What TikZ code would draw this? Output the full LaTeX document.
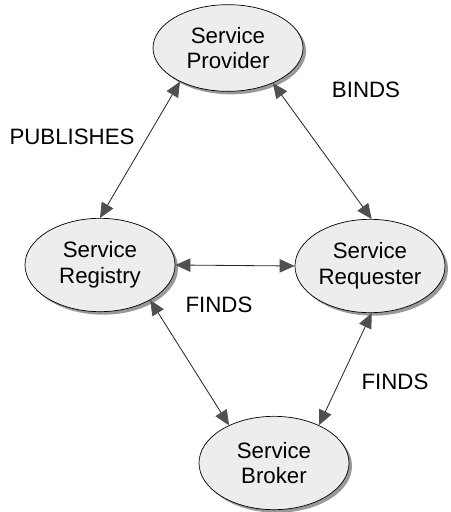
\documentclass[tikz,border=0pt]{standalone}
\usepackage{fontspec}
\setmainfont{Liberation Sans}
\usepackage{tikz}
\usetikzlibrary{shapes.geometric,shadows,arrows.meta}
\definecolor{nodegray}{RGB}{237, 237, 237}
\definecolor{tipgray}{RGB}{80, 80, 80}

\begin{document}
\begin{tikzpicture}[
      x=0.03cm, y=-0.03cm, % 1 unit = 1 pixel of the reference
      service/.style={
          ellipse, draw=black, line width=0.6pt,
          fill=nodegray, text=black,
          minimum width=4.5cm, minimum height=2.8cm, inner sep=0pt,
          align=center, font=\fontsize{19pt}{22pt}\selectfont,
          drop shadow={shadow xshift=0.09cm, shadow yshift=-0.09cm, fill=gray!80, opacity=1}
      },
      tag/.style={
          text=black, font=\fontsize{19pt}{22pt}\selectfont
      },
      link/.style={
          draw=black!85, line width=0.7pt,
          {Triangle[length=0.45cm, width=0.4cm, color=tipgray]}-{Triangle[length=0.45cm, width=0.4cm, color=tipgray]}
      }
  ]
      \useasboundingbox (0,0) rectangle (450,512);

      % Services
      \node[service, minimum height=2.6cm] (prov) at (228, 48) {Service\\Provider};
      \node[service] (reg) at (100, 265) {Service\\Registry};
      \node[service] (req) at (370, 266) {Service\\Requester};
      \node[service] (brok) at (274, 463) {Service\\Broker};

      % Labels
      \node[tag] (publishes) at (72, 137) {PUBLISHES};
      \node[tag] (binds) at (366, 90) {BINDS};
      \node[tag] (finds1) at (219, 305) {FINDS};
      \node[tag] (finds2) at (395, 382) {FINDS};

      % Connectors
      \draw[link] (prov.215) -- (reg.90);
      \draw[link] (prov.322) -- (req.88);
      \draw[link] (reg.0) -- (req.180);
      \draw[link] (reg.325) -- (brok.140);
      \draw[link] (req.272) -- (brok.40);
  \end{tikzpicture}
\end{document}
